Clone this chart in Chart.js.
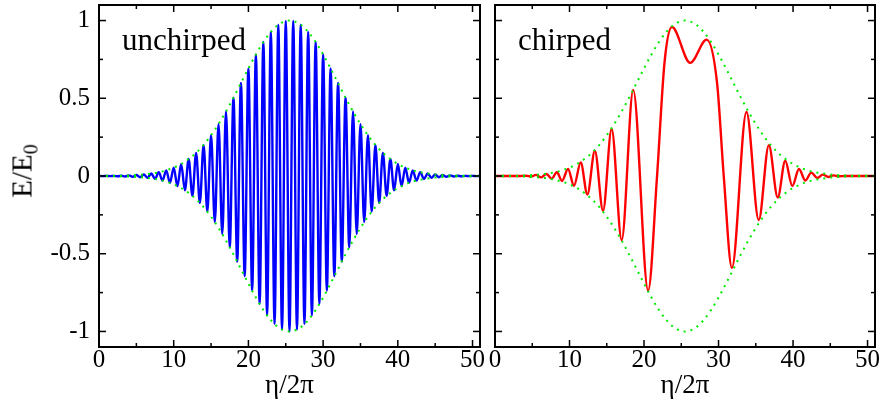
<!DOCTYPE html>
<html>
<head>
<meta charset="utf-8">
<script src="https://cdn.jsdelivr.net/npm/chart.js@4.4.1/dist/chart.umd.min.js"></script>
<style>
  body { margin: 0; background: #fff; }
  #wrap { position: relative; width: 884px; height: 414px; font-family: 'Liberation Serif', 'Times New Roman', serif; color: #000; }
  canvas { position: absolute; left: 0; top: 0; }
  .txt { position: absolute; white-space: nowrap; line-height: 1; }
  .panel { font-size: 31px; top: 24px; }
  .xtitle { font-size: 27px; top: 371px; transform: translateX(-50%); }
  .ytitle { font-size: 29px; left: 22px; top: 171px; transform: translate(-50%, -50%) rotate(-90deg); }
  .ytitle sub { font-size: 20px; vertical-align: -6px; line-height: 0; }
</style>
</head>
<body>
<div id="wrap">
  <canvas id="unchirped-chart" width="884" height="414"></canvas>
  <canvas id="chirped-chart" width="884" height="414"></canvas>
  <div class="txt panel" style="left:122px">unchirped</div>
  <div class="txt panel" style="left:518px">chirped</div>
  <div class="txt xtitle" style="left:289.5px">η/2π</div>
  <div class="txt xtitle" style="left:685px">η/2π</div>
  <div class="txt ytitle">E/E<sub>0</sub></div>
</div>
<script>
// ------------------------
// DATA
// ------------------------

// axis ticks
const xTicks = [0, 10, 20, 30, 40, 50]
const xMinorTicks = [5, 15, 25, 35, 45]
const yTicks = [-1, -0.5, 0, 0.5, 1]
const yTickLabels = ['-1', '-0.5', '0', '0.5', '1']
const yMinorTicks = [-0.75, -0.25, 0.25, 0.75]

// green dotted envelope (same in both panels)
const envelopeEta = [0, 1, 2, 3, 4, 5, 6, 7, 8, 9, 10, 11, 12, 13, 14, 15, 16, 17, 18, 19, 20, 21, 22, 23, 24, 25, 25.5,
  26, 27, 28, 29, 30, 31, 32, 33, 34, 35, 36, 37, 38, 39, 40, 41, 42, 43, 44, 45, 46, 47, 48, 49, 50, 51]
const envelopeUpper = [0.000, 0.001, 0.001, 0.002, 0.004, 0.006, 0.010, 0.016, 0.024, 0.036, 0.054, 0.077, 0.109, 0.149,
  0.200, 0.262, 0.334, 0.415, 0.504, 0.598, 0.692, 0.782, 0.862, 0.927, 0.973, 0.997, 1.000,
  0.997, 0.973, 0.927, 0.862, 0.782, 0.692, 0.598, 0.504, 0.415, 0.334, 0.262, 0.200, 0.149, 0.109, 0.077, 0.054,
  0.036, 0.024, 0.016, 0.010, 0.006, 0.004, 0.002, 0.001, 0.001, 0.000]
const envelopeLower = [0.000, -0.001, -0.001, -0.002, -0.004, -0.006, -0.010, -0.016, -0.024, -0.036, -0.054, -0.077, -0.109, -0.149,
  -0.200, -0.262, -0.334, -0.415, -0.504, -0.598, -0.692, -0.782, -0.862, -0.927, -0.973, -0.997, -1.000,
  -0.997, -0.973, -0.927, -0.862, -0.782, -0.692, -0.598, -0.504, -0.415, -0.334, -0.262, -0.200, -0.149, -0.109, -0.077, -0.054,
  -0.036, -0.024, -0.016, -0.010, -0.006, -0.004, -0.002, -0.001, -0.001, 0.000]

// unchirped pulse: peaks and troughs
const unchirpedEta = [0, 0.5, 1, 1.5, 2, 2.5, 3, 3.5, 4, 4.5, 5, 5.5, 6, 6.5, 7, 7.5, 8, 8.5, 9, 9.5,
  10, 10.5, 11, 11.5, 12, 12.5, 13, 13.5, 14, 14.5, 15, 15.5, 16, 16.5, 17, 17.5, 18, 18.5, 19, 19.5,
  20, 20.5, 21, 21.5, 22, 22.5, 23, 23.5, 24, 24.5, 25, 25.5, 26, 26.5, 27, 27.5, 28, 28.5, 29, 29.5,
  30, 30.5, 31, 31.5, 32, 32.5, 33, 33.5, 34, 34.5, 35, 35.5, 36, 36.5, 37, 37.5, 38, 38.5, 39, 39.5,
  40, 40.5, 41, 41.5, 42, 42.5, 43, 43.5, 44, 44.5, 45, 45.5, 46, 46.5, 47, 47.5, 48, 48.5, 49, 49.5,
  50, 50.5, 51]
const unchirpedE = [0.000, -0.001, 0.001, -0.001, 0.001, -0.002, 0.002, -0.003, 0.004, -0.005,
  0.006, -0.008, 0.010, -0.012, 0.016, -0.019, 0.024, -0.030, 0.036, -0.044,
  0.054, -0.065, 0.077, -0.092, 0.109, -0.128, 0.149, -0.173, 0.200, -0.229,
  0.262, -0.296, 0.334, -0.373, 0.415, -0.459, 0.504, -0.551, 0.598, -0.645,
  0.692, -0.738, 0.782, -0.823, 0.862, -0.896, 0.927, -0.953, 0.973, -0.988,
  0.997, -1.000, 0.997, -0.988, 0.973, -0.953, 0.927, -0.896, 0.862, -0.823,
  0.782, -0.738, 0.692, -0.645, 0.598, -0.551, 0.504, -0.459, 0.415, -0.373,
  0.334, -0.296, 0.262, -0.229, 0.200, -0.173, 0.149, -0.128, 0.109, -0.092,
  0.077, -0.065, 0.054, -0.044, 0.036, -0.030, 0.024, -0.019, 0.016, -0.012,
  0.010, -0.008, 0.006, -0.005, 0.004, -0.003, 0.002, -0.002, 0.001, -0.001,
  0.001, -0.001, 0.000]

// chirped pulse: extrema (and a few crossings)
const chirpedEta = [0, 3.5, 4.2, 4.85, 5.5, 6.2, 6.9, 7.6, 8.3, 9.0, 9.8, 10.6, 11.5, 12.4, 13.4, 14.5, 15.65, 17.0,
  18.55, 20.55, 21.75, 22.75, 23.75, 26.2, 28.4, 29.8, 30.7, 31.8, 33.75, 35.4, 36.75, 37.95, 38.95, 39.9,
  40.8, 41.65, 42.45, 43.25, 44.0, 44.75, 45.45, 46.15, 47.0, 51]
const chirpedE = [0, 0, 0.002, -0.004, 0.007, -0.009, 0.013, -0.017, 0.024, -0.032, 0.045, -0.063, 0.087, -0.119,
  0.162, -0.224, 0.302, -0.412, 0.553, -0.737, 0, 0.73, 0.958, 0.728, 0.877, 0.60, 0, -0.591, 0.412, -0.283,
  0.198, -0.138, 0.098, -0.064, 0.045, -0.029, 0.022, -0.013, 0.009, -0.006, 0.004, -0.002, 0, 0]

// ------------------------
// HELPERS
// ------------------------

const serif = "'Liberation Serif', 'Times New Roman', serif"

function toPoints(xs, ys) {
  return xs.map((x, i) => ({ x: x, y: ys[i] }))
}

// frame box and inward ticks on all four sides
const frameTicks = {
  id: 'frameTicks',
  afterDatasetsDraw(chart) {
    const { ctx, chartArea: a, scales: { x, y } } = chart
    ctx.save()
    ctx.strokeStyle = '#000'
    ctx.lineWidth = 1.5
    const tick = (x1, y1, x2, y2) => {
      ctx.beginPath(); ctx.moveTo(x1, y1); ctx.lineTo(x2, y2); ctx.stroke()
    }
    const drawX = (vals, len) => vals.forEach(v => {
      const p = x.getPixelForValue(v)
      tick(p, a.bottom, p, a.bottom - len)
      tick(p, a.top, p, a.top + len)
    })
    const drawY = (vals, len) => vals.forEach(v => {
      const p = y.getPixelForValue(v)
      tick(a.left, p, a.left + len, p)
      tick(a.right, p, a.right - len, p)
    })
    drawX(xTicks, 7); drawX(xMinorTicks, 4)
    drawY(yTicks, 7); drawY(yMinorTicks, 4)
    ctx.lineWidth = 2
    ctx.strokeRect(a.left, a.top, a.right - a.left, a.bottom - a.top)
    ctx.restore()
  }
}

function makeChart(canvas, etas, values, color, padding, yWidth, showYLabels) {
  return new Chart(canvas, {
    type: 'line',
    data: {
      datasets: [
        { data: toPoints(envelopeEta, envelopeUpper), borderColor: 'rgb(0,235,0)', borderWidth: 2, borderDash: [2, 5], cubicInterpolationMode: 'monotone' },
        { data: toPoints(envelopeEta, envelopeLower), borderColor: 'rgb(0,235,0)', borderWidth: 2, borderDash: [2, 5], cubicInterpolationMode: 'monotone' },
        { data: toPoints(etas, values), borderColor: color, borderWidth: 2.4, cubicInterpolationMode: 'monotone' }
      ]
    },
    options: {
      responsive: false,
      animation: false,
      events: [],
      elements: { point: { radius: 0 } },
      layout: { padding: padding },
      plugins: { legend: { display: false }, tooltip: { enabled: false } },
      scales: {
        x: {
          type: 'linear', min: 0, max: 51,
          grid: { display: false, drawTicks: false },
          border: { display: false },
          afterBuildTicks: s => { s.ticks = xTicks.map(v => ({ value: v })) },
          afterFit: s => { s.height = 67; s.paddingLeft = 0; s.paddingRight = 0; s.paddingTop = 0; s.paddingBottom = 0 },
          ticks: { color: '#000', padding: -2, maxRotation: 0, autoSkip: false, font: { family: serif, size: 25 }, callback: v => String(v) }
        },
        y: {
          type: 'linear', min: -1.1, max: 1.1,
          grid: { display: false, drawTicks: false },
          border: { display: false },
          afterBuildTicks: s => { s.ticks = yTicks.map(v => ({ value: v })) },
          afterFit: s => { s.width = yWidth; s.paddingLeft = 0; s.paddingRight = 0; s.paddingTop = 0; s.paddingBottom = 0 },
          ticks: { display: showYLabels, color: '#000', padding: 9, font: { family: serif, size: 25 }, callback: v => yTickLabels[yTicks.indexOf(v)] }
        }
      }
    },
    plugins: [frameTicks]
  })
}

// ------------------------
// CHARTS
// ------------------------

const unchirpedChart = makeChart(document.querySelector('#unchirped-chart'), unchirpedEta, unchirpedE, '#0000ff',
  { left: 0, right: 404, top: 5, bottom: 0 }, 99, true)

const chirpedChart = makeChart(document.querySelector('#chirped-chart'), chirpedEta, chirpedE, '#ff0000',
  { left: 495, right: 9, top: 5, bottom: 0 }, 0, false)
</script>
</body>
</html>
